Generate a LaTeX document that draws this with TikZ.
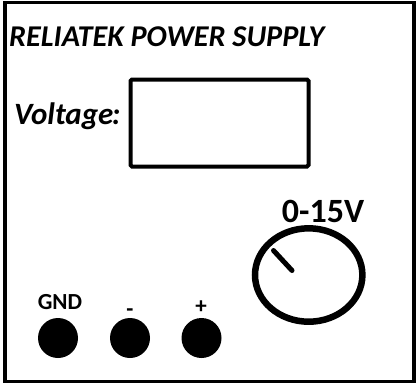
\documentclass[tikz,border=0pt]{standalone}
\usepackage{fontspec}
\setmainfont{Carlito}
\tikzset{
  panel/.style={line width=3.5pt},
  jack/.style={circle,fill=black,minimum size=40pt,inner sep=0pt},
  jacklabel/.style={font=\bfseries\fontsize{23}{23}\selectfont,inner sep=0pt}
}
\begin{document}
\begin{tikzpicture}[x=1pt,y=-1pt]
\useasboundingbox (0,0) rectangle (417,384);
% front panel
\draw[panel] (5,2.5) rectangle (414,381.5);
\node[anchor=base west,inner sep=0pt,font=\bfseries\itshape\fontsize{30.2}{30}\selectfont] (title) at (9,46) {RELIATEK POWER SUPPLY};
% display
\draw[line width=4pt,rounded corners=1.5pt] (130.5,79.5) rectangle (308.5,166.5);
\node[anchor=base west,inner sep=0pt,font=\bfseries\itshape\fontsize{31}{31}\selectfont] (voltage) at (14,124) {Voltage\kern-1.5pt:};
% knob
\node[anchor=base,inner sep=0pt,font=\bfseries\fontsize{34}{34}\selectfont] (range) at (323,222) {0-15V};
\draw[line width=6.5pt] (308.7,275) ellipse (53.7 and 46.7);
\draw[line width=5pt,line cap=round] (273.5,250.5) -- (292,270.5);
% jacks
\node[jack] (gnd) at (58,338) {};
\node[jack] (neg) at (130,338) {};
\node[jack] (pos) at (201.5,338) {};
\node[jacklabel,anchor=base] (gndlabel) at (60,309) {GND};
\node[jacklabel,anchor=base] (neglabel) at (130,316) {-};
\node[jacklabel,anchor=base] (poslabel) at (201,313) {+};
\end{tikzpicture}
\end{document}
